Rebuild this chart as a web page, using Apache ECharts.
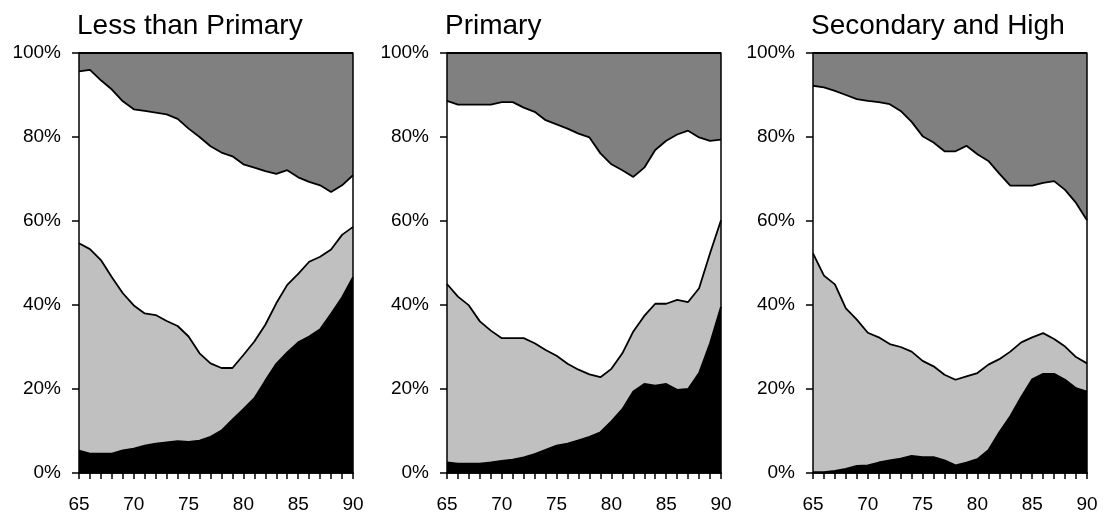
<!DOCTYPE html>
<html>
<head>
<meta charset="utf-8">
<script src="https://cdn.jsdelivr.net/npm/echarts@6/dist/echarts.min.js"></script>
<style>
html,body{margin:0;padding:0;background:#fff;}
#chart{width:1104px;height:515px;}
</style>
</head>
<body>
<div id="chart"></div>
<script>
// Years (categories)
var years = ['65','66','67','68','69','70','71','72','73','74','75','76','77','78','79','80','81','82','83','84','85','86','87','88','89','90'];
var panelTitles = ['Less than Primary', 'Primary', 'Secondary and High'];

// Cumulative shares (%): upper boundary of black, light gray, white bands
var lessPrimary_black = [5.3,4.6,4.6,4.6,5.4,5.8,6.5,7.0,7.3,7.6,7.4,7.7,8.6,10.1,12.7,15.2,17.8,22.0,26.0,28.7,31.1,32.5,34.2,37.9,41.8,46.6];
var lessPrimary_gray  = [54.7,53.3,50.7,46.6,42.8,39.9,38.0,37.6,36.2,35.0,32.5,28.5,26.1,25.0,25.0,28.1,31.3,35.3,40.4,44.8,47.4,50.3,51.5,53.2,56.7,58.6];
var lessPrimary_white = [95.6,96.0,93.5,91.3,88.5,86.6,86.2,85.8,85.4,84.3,82.0,80.0,77.8,76.3,75.4,73.5,72.7,71.9,71.2,72.1,70.4,69.3,68.5,66.9,68.5,70.9];

var primary_black = [2.5,2.2,2.2,2.2,2.5,2.9,3.2,3.7,4.5,5.5,6.5,7.0,7.8,8.6,9.7,12.3,15.2,19.4,21.2,20.8,21.2,19.8,20.0,23.8,30.9,39.6];
var primary_gray  = [45.0,42.0,39.9,36.1,33.9,32.1,32.1,32.1,30.9,29.3,27.9,26.0,24.6,23.5,22.8,24.8,28.5,33.7,37.4,40.3,40.3,41.2,40.7,44.0,52.3,60.2];
var primary_white = [88.6,87.7,87.7,87.7,87.7,88.3,88.3,87.0,86.0,84.0,83.0,82.0,80.8,79.9,76.1,73.5,72.1,70.5,72.7,76.9,79.1,80.6,81.5,79.9,79.1,79.4];

var secondary_black = [0.2,0.2,0.5,1.0,1.7,1.8,2.5,3.0,3.4,4.1,3.8,3.8,3.0,1.8,2.5,3.3,5.4,9.7,13.5,18.1,22.3,23.6,23.6,22.2,20.2,19.4];
var secondary_gray  = [52.3,47.0,44.9,39.2,36.5,33.4,32.3,30.7,30.0,28.9,26.7,25.4,23.4,22.2,23.0,23.8,25.8,27.1,28.9,31.1,32.3,33.3,31.9,30.1,27.6,26.1];
var secondary_white = [92.2,91.8,91.0,90.0,89.0,88.6,88.3,87.8,86.2,83.6,80.2,78.7,76.6,76.6,77.9,75.9,74.3,71.3,68.4,68.4,68.4,69.1,69.5,67.4,64.3,60.2];

var totalShare = years.map(function(){ return 100; });

var panels = [
  [lessPrimary_black, lessPrimary_gray, lessPrimary_white],
  [primary_black, primary_gray, primary_white],
  [secondary_black, secondary_gray, secondary_white]
];

var gridLefts = [79, 447, 813];
var gridW = 274, gridTop = 53, gridH = 420;
var FONT = 'Liberation Sans, Arial, sans-serif';

var option = {
  animation: false,
  backgroundColor: '#fff',
  title: [], grid: [], xAxis: [], yAxis: [], series: []
};

panels.forEach(function(p, i){
  option.title.push({
    text: panelTitles[i], left: gridLefts[i] - 7, top: 7,
    textStyle: {fontFamily: FONT, fontSize: 28, fontWeight: 'normal', color: '#000'}
  });
  option.grid.push({left: gridLefts[i], top: gridTop, width: gridW, height: gridH});
  option.xAxis.push({
    type: 'category', gridIndex: i, data: years, boundaryGap: false,
    axisLine: {show: true, lineStyle: {color: '#000', width: 1.5}},
    axisTick: {show: true, interval: 0, length: 6, lineStyle: {color: '#000', width: 1.5}},
    axisLabel: {interval: 4, margin: 22, fontFamily: FONT, fontSize: 19, color: '#000'},
    splitLine: {show: false}, z: 10
  });
  option.xAxis.push({
    type: 'category', gridIndex: i, data: years, boundaryGap: false, position: 'top',
    axisLine: {show: true, lineStyle: {color: '#000', width: 1.5}},
    axisTick: {show: false}, axisLabel: {show: false}, splitLine: {show: false}, z: 10
  });
  option.yAxis.push({
    type: 'value', gridIndex: i, min: 0, max: 100, interval: 20,
    axisLine: {show: true, lineStyle: {color: '#000', width: 1.5}},
    axisTick: {show: true, length: 7, lineStyle: {color: '#000', width: 1.5}},
    axisLabel: {formatter: '{value}%', margin: 18, fontFamily: FONT, fontSize: 19, color: '#000'},
    splitLine: {show: false}, z: 10
  });
  option.yAxis.push({
    type: 'value', gridIndex: i, min: 0, max: 100, interval: 20, position: 'right',
    axisLine: {show: true, lineStyle: {color: '#000', width: 1.5}},
    axisTick: {show: false}, axisLabel: {show: false}, splitLine: {show: false}, z: 10
  });
  var xi = i * 2, yi = i * 2;
  var layers = [
    {data: totalShare, fill: '#808080'},
    {data: p[2], fill: '#ffffff'},
    {data: p[1], fill: '#c0c0c0'},
    {data: p[0], fill: '#000000'}
  ];
  layers.forEach(function(l){
    option.series.push({
      type: 'line', xAxisIndex: xi, yAxisIndex: yi, data: l.data,
      symbol: 'none', smooth: false,
      lineStyle: {color: '#000', width: 1.8},
      areaStyle: {color: l.fill, opacity: 1}
    });
  });
});

var chart = echarts.init(document.getElementById('chart'), null, {renderer: 'canvas'});
chart.setOption(option);
</script>
</body>
</html>
